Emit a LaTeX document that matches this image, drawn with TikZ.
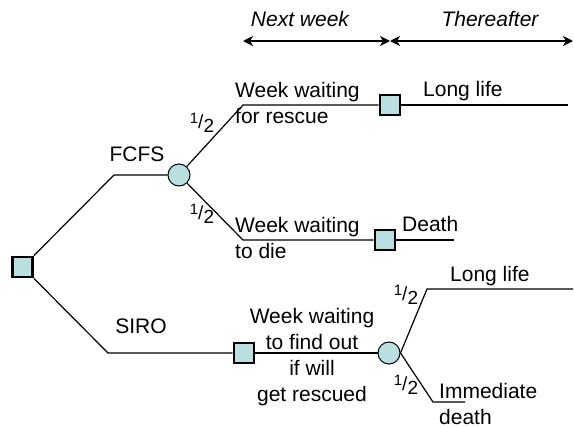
\documentclass[tikz,border=0pt]{standalone}
\usepackage{fontspec}
\setmainfont{Liberation Sans}
\usetikzlibrary{arrows.meta,positioning}
\definecolor{NodeFill}{HTML}{B9DFE1}
\newcommand{\half}{\raisebox{5pt}{\fontsize{15}{15}\selectfont 1}/\raisebox{-4pt}{2}}

\begin{document}
\begin{tikzpicture}[x=1pt,y=-1pt,
    decision/.style={draw=black, line width=2.8pt, fill=NodeFill, minimum size=20pt, inner sep=0pt},
    chance/.style={circle, draw=black, line width=1pt, fill=NodeFill, minimum size=22pt, inner sep=0pt},
    branch/.style={line width=1.2pt},
    txt/.style={font=\fontsize{21}{26}\selectfont, inner sep=0pt},
    prob/.style={font=\fontsize{19}{19}\selectfont, inner sep=0pt},
    period/.style={line width=2.6pt, {Stealth[length=10pt,width=10pt,inset=3pt]}-{Stealth[length=10pt,width=10pt,inset=3pt]}}]
  \useasboundingbox (0,0) rectangle (574,428);

  % Time periods
  \coordinate (weekstart) at (243,41);
  \coordinate (weekend) at (390,41);
  \coordinate (laterend) at (573,41);
  \draw[period] (weekstart) -- (weekend);
  \draw[period] (weekend) -- (laterend);
  \node[txt, anchor=base] (nextweek) at (300,27) {\itshape Next week};
  \node[txt, anchor=base] (thereafter) at (490,27) {\itshape Thereafter};

  % Nodes of the tree
  \node[decision] (root) at (22.5,267) {};
  \node[chance] (fcfs) at (179,175) {};
  \node[decision] (rescued) at (390,105) {};
  \node[decision] (died) at (385,240) {};
  \node[decision] (siro) at (244,353) {};
  \node[chance] (findout) at (389,353) {};

  % Bends and free ends
  \coordinate (fcfsbend) at (114,175);
  \coordinate (sirobend) at (108,353);
  \coordinate (rescuebend) at (243,105);
  \coordinate (rescueend) at (568,105);
  \coordinate (diebend) at (243,240);
  \coordinate (dieend) at (454,240);
  \coordinate (livebend) at (427,289);
  \coordinate (liveend) at (573,289);
  \coordinate (deathbend) at (433,402);
  \coordinate (deathend) at (465,402);

  % Branches
  \draw[branch] (root.north east) -- (fcfsbend) -- (fcfs);
  \draw[branch] (root.south east) -- (sirobend) -- (siro);
  \draw[branch] (fcfs) -- (rescuebend) -- (rescued);
  \draw[branch] (rescued) -- (rescueend);
  \draw[branch] (fcfs) -- (diebend) -- (died);
  \draw[branch] (died) -- (dieend);
  \draw[branch] (siro) -- (findout);
  \draw[branch] (findout.east) -- (livebend) -- (liveend);
  \draw[branch] (findout.east) -- (deathbend) -- (deathend);

  % Labels
  \node[txt, anchor=base] (fcfslabel) at (137,162) {FCFS};
  \node[txt, anchor=base] (sirolabel) at (141,333) {SIRO};
  \node[txt, anchor=north west, align=left] (rescuetext) at (235,82) {Week waiting\\for rescue};
  \node[txt, anchor=north west, align=left] (dietext) at (235,217) {Week waiting\\to die};
  \node[txt, anchor=base west] (longlife1) at (423,97) {Long life};
  \node[txt, anchor=base west] (deathtext) at (402,232) {Death};
  \node[txt, anchor=north, align=center] (findtext) at (312,308) {Week waiting\\to find out\\if will\\get rescued};
  \node[txt, anchor=base west] (longlife2) at (450,281) {Long life};
  \node[txt, anchor=north west, align=left] (immtext) at (439,383) {Immediate\\death};

  % Probabilities
  \node[prob] (p1) at (202,123) {\half};
  \node[prob] (p2) at (202,214) {\half};
  \node[prob] (p3) at (406,295) {\half};
  \node[prob] (p4) at (406,385) {\half};
\end{tikzpicture}
\end{document}
